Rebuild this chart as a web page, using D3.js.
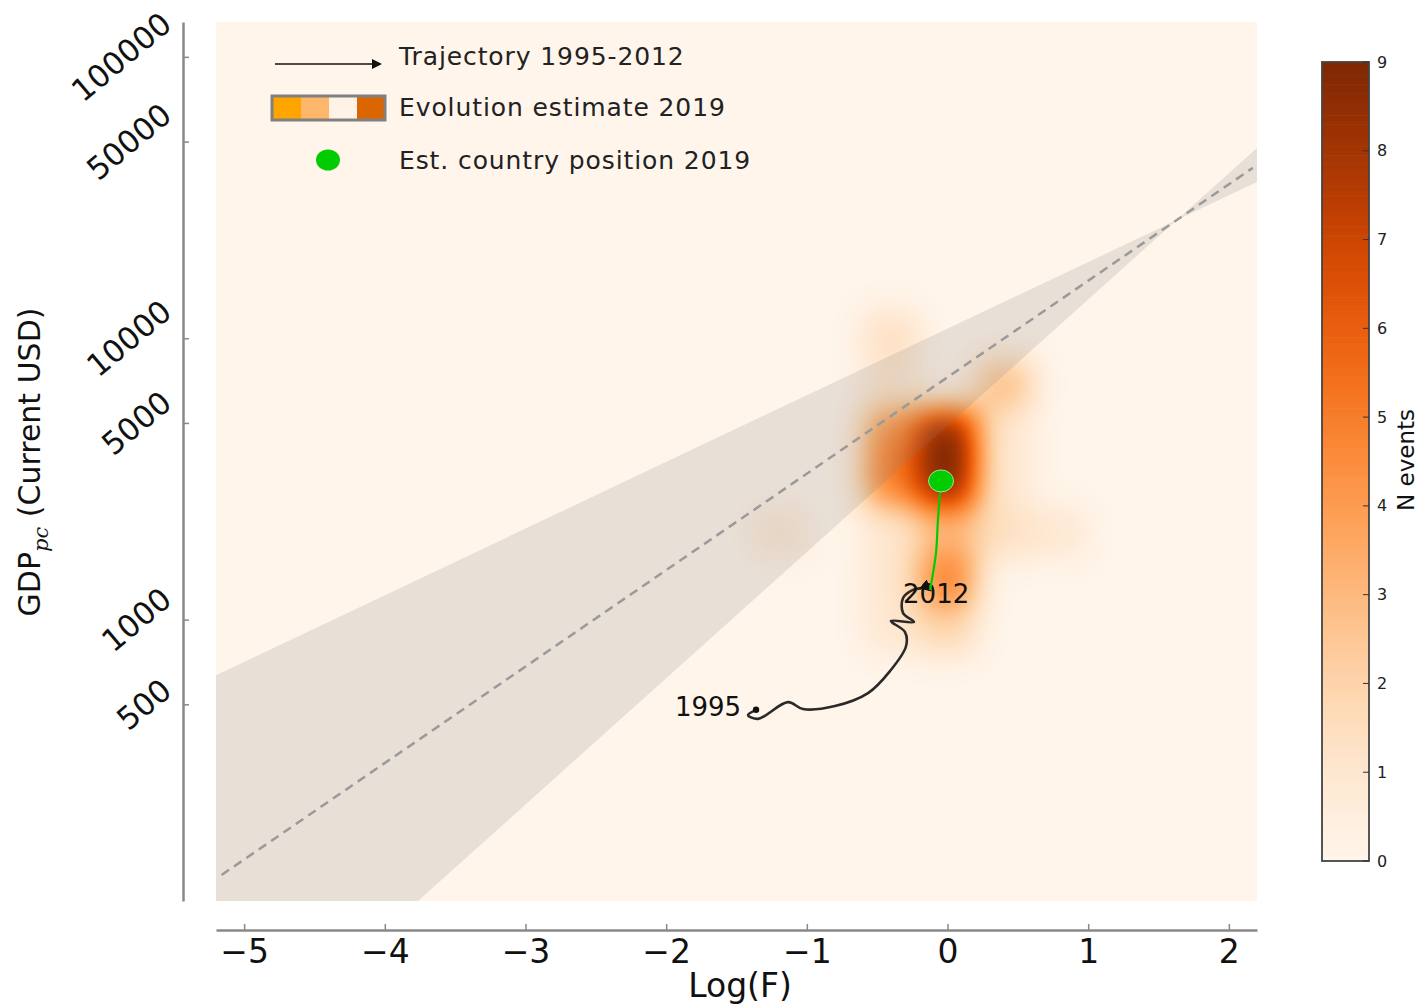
<!DOCTYPE html>
<html>
<head>
<meta charset="utf-8">
<script src="https://cdn.jsdelivr.net/npm/d3@7"></script>
<style>
  body { margin: 0; background: #fff; }
  svg { display: block; font-family: "DejaVu Sans", sans-serif; }
</style>
</head>
<body>
<svg id="chart" width="1420" height="1004"></svg>
<script>
// ---- data ----
const xTicks = [-5, -4, -3, -2, -1, 0, 1, 2];
const yTicks = [500, 1000, 5000, 10000, 50000, 100000];
const cbTicks = [0, 1, 2, 3, 4, 5, 6, 7, 8, 9];

// trajectory 1995-2012 (log F, GDP per capita)
const trajYears = [1995, 1996, 1997, 1998, 1999, 2000, 2001, 2002, 2003, 2004, 2005, 2006, 2007, 2008, 2009, 2010, 2011, 2012];
const trajLogF = [-1.361, -1.418, -1.347, -1.134, -1.027, -0.800, -0.565, -0.409, -0.295, -0.302, -0.402, -0.238, -0.316, -0.316, -0.245, -0.181, -0.146, -0.124];
const trajGdp = [478, 458, 444, 509, 481, 493, 548, 656, 804, 903, 989, 980, 1055, 1194, 1275, 1295, 1295, 1275];

// estimated path 2012 -> 2019
const estPathLogF = [-0.124, -0.082, -0.068, -0.046];
const estPathGdp = [1275, 1722, 2259, 3111];
const est2019 = { logF: -0.046, gdp: 3111 };

// evolution estimate 2019: binned event counts
const binLogF = 0.4;      // bin width in log F
const binLogGdp = 0.175;  // bin height in decades
const estLogF = [0.0, 0.0, 0.0, 0.0, 0.0, -0.4, -0.4, -0.4, -0.4, -0.4, -0.4, -0.4, 0.4, 0.4, 0.4, 0.4, 0.8, -1.2];
const estGdp = [4570, 3090, 2040, 1380, 930, 4570, 3090, 2040, 1380, 930, 6920, 10230, 6920, 4570, 3090, 2040, 2040, 2040];
const estCount = [9, 9, 3, 5, 2, 4.5, 5, 1, 1, 1, 1, 1.5, 3, 1, 1, 1.5, 1, 1];

// regression line and its band: log10(GDP) = a + b * logF
const fitLine = { a: 3.8615, b: 0.3428 };
const bandLow = { a: 4.034, b: 0.2368 };
const bandHigh = { a: 3.689, b: 0.4487 };
const fitRange = [-5.16, 2.17];

const legendSwatch = ["#ffa500", "#fdb66a", "#fff3e8", "#db6500"];

// ---- layout ----
const svg = d3.select("#chart");
const plot = { left: 216, right: 1257, top: 22, bottom: 901 };
const W = plot.right - plot.left, H = plot.bottom - plot.top;

const x = d3.scaleLinear().domain([-5.2, 2.2]).range([plot.left, plot.right]);
const y = d3.scaleLog().domain([100, 133000]).range([plot.bottom, plot.top]);
const color = d3.scaleSequential(d3.interpolateOranges).domain([0, 9]).clamp(true);

svg.append("defs").append("clipPath").attr("id", "plotClip")
  .append("rect").attr("x", plot.left).attr("y", plot.top).attr("width", W).attr("height", H);

// ---- heatmap (smoothed bins) ----
function erf(z) {
  const s = z < 0 ? -1 : 1; z = Math.abs(z);
  const t = 1 / (1 + 0.3275911 * z);
  const p = ((((1.061405429 * t - 1.453152027) * t + 1.421413741) * t - 0.284496736) * t + 0.254829592) * t;
  return s * (1 - p * Math.exp(-z * z));
}
const sigma = 17;
function boxProfile(n, a, b, off) {
  const arr = new Float32Array(n);
  for (let i = 0; i < n; i++) {
    const p = i + off + 0.5;
    arr[i] = 0.5 * (erf((p - a) / (sigma * Math.SQRT2)) - erf((p - b) / (sigma * Math.SQRT2)));
  }
  return arr;
}
const cells = estCount.map((c, i) => {
  const x0 = x(estLogF[i] - binLogF / 2), x1 = x(estLogF[i] + binLogF / 2);
  const lg = Math.log10(estGdp[i]);
  const y0 = y(Math.pow(10, lg + binLogGdp / 2)), y1 = y(Math.pow(10, lg - binLogGdp / 2));
  return { c, cx: boxProfile(W, x0, x1, plot.left), cy: boxProfile(H, y0, y1, plot.top) };
});
const lut = d3.range(256).map(i => d3.rgb(color(i / 255 * 9)));
const canvas = document.createElement("canvas");
canvas.width = W; canvas.height = H;
const ctx = canvas.getContext("2d");
const img = ctx.createImageData(W, H);
for (let j = 0; j < H; j++) {
  for (let i = 0; i < W; i++) {
    let v = 0;
    for (const cell of cells) {
      const r = cell.cy[j];
      if (r > 1e-4) v += cell.c * cell.cx[i] * r;
    }
    const k = Math.max(0, Math.min(255, Math.round(v / 9 * 255)));
    const col = lut[k], o = (j * W + i) * 4;
    img.data[o] = col.r; img.data[o + 1] = col.g; img.data[o + 2] = col.b; img.data[o + 3] = 255;
  }
}
ctx.putImageData(img, 0, 0);
svg.append("image")
  .attr("x", plot.left).attr("y", plot.top).attr("width", W).attr("height", H)
  .attr("href", canvas.toDataURL());

// ---- regression band and line ----
const gPlot = svg.append("g").attr("clip-path", "url(#plotClip)");
gPlot.append("path")
  .datum([-5.2, 2.2])
  .attr("d", d3.area()
    .x(d => x(d))
    .y0(d => y(Math.pow(10, bandLow.a + bandLow.b * d)))
    .y1(d => y(Math.pow(10, bandHigh.a + bandHigh.b * d))))
  .attr("fill", "rgba(128,128,128,0.18)");
gPlot.append("path")
  .datum(fitRange)
  .attr("d", d3.line().x(d => x(d)).y(d => y(Math.pow(10, fitLine.a + fitLine.b * d))))
  .attr("fill", "none").attr("stroke", "#9a9a9a").attr("stroke-width", 2.5)
  .attr("stroke-dasharray", "9,6");

// ---- trajectory ----
svg.select("defs").append("marker")
  .attr("id", "arrow").attr("viewBox", "0 0 10 10").attr("refX", 8).attr("refY", 5)
  .attr("markerWidth", 4.5).attr("markerHeight", 4.5).attr("markerUnits", "strokeWidth")
  .attr("orient", "auto")
  .append("path").attr("d", "M0,0L10,5L0,10Z").attr("fill", "#111");

const trajPts = trajYears.map((yr, i) => [x(trajLogF[i]), y(trajGdp[i])]);
svg.append("path")
  .datum(trajPts)
  .attr("d", d3.line().curve(d3.curveCatmullRom.alpha(0.5)))
  .attr("fill", "none").attr("stroke", "#2a2a2a").attr("stroke-width", 2.6)
  .attr("marker-end", "url(#arrow)");
svg.append("circle").attr("cx", trajPts[0][0]).attr("cy", trajPts[0][1]).attr("r", 3.2).attr("fill", "#111");

svg.append("text").attr("x", trajPts[0][0] - 15).attr("y", trajPts[0][1] + 6)
  .attr("text-anchor", "end").attr("font-size", 26).attr("fill", "#111").text(trajYears[0]);
const last = trajPts[trajPts.length - 1];
svg.append("text").attr("x", last[0] - 27).attr("y", last[1] + 13)
  .attr("font-size", 26).attr("fill", "#111").text(trajYears[trajYears.length - 1]);

// estimated path to 2019
svg.append("path")
  .datum(estPathLogF.map((v, i) => [x(v), y(estPathGdp[i])]))
  .attr("d", d3.line().curve(d3.curveCatmullRom.alpha(0.5)))
  .attr("fill", "none").attr("stroke", "#00cc00").attr("stroke-width", 2.2);
svg.append("ellipse")
  .attr("cx", x(est2019.logF)).attr("cy", y(est2019.gdp)).attr("rx", 12.5).attr("ry", 11)
  .attr("fill", "#00cc00").attr("stroke", "#a8dca0").attr("stroke-width", 1);

// ---- axes ----
const xAxis = svg.append("g").attr("transform", "translate(0,930)")
  .call(d3.axisBottom(x).tickValues(xTicks).tickSize(-6).tickSizeOuter(0).tickPadding(10));
xAxis.select(".domain").attr("stroke", "#888").attr("stroke-width", 2.5);
xAxis.selectAll(".tick line").attr("stroke", "#888").attr("stroke-width", 1.5);
xAxis.selectAll(".tick text").attr("font-size", 33).attr("fill", "#111")
  .attr("font-family", "DejaVu Sans");

const yAxis = svg.append("g").attr("transform", "translate(183,0)")
  .call(d3.axisRight(y).tickValues(yTicks).tickSize(6).tickSizeOuter(0).tickFormat(""));
yAxis.select(".domain").attr("stroke", "#888").attr("stroke-width", 2.5);
yAxis.selectAll(".tick line").attr("stroke", "#888").attr("stroke-width", 1.5);

// rotated y tick labels, right edge of rotated box at 174, centered on tick
const ang = 40 * Math.PI / 180;
yTicks.forEach(v => {
  const t = svg.append("text").attr("font-size", 31).attr("fill", "#111")
    .attr("text-anchor", "middle").attr("dominant-baseline", "central").text(v);
  const L = t.node().getComputedTextLength();
  const halfW = (L * Math.cos(ang) + 23 * Math.sin(ang)) / 2;
  t.attr("transform", `translate(${174 - halfW},${y(v)}) rotate(-40)`);
});

svg.append("text").attr("x", 740).attr("y", 997).attr("text-anchor", "middle")
  .attr("font-size", 33).attr("fill", "#111").text("Log(F)");

const yl = svg.append("text").attr("transform", "translate(40,462) rotate(-90)")
  .attr("text-anchor", "middle").attr("font-size", 30).attr("fill", "#111");
yl.append("tspan").text("GDP");
yl.append("tspan").attr("dy", 8).attr("font-size", 21).attr("font-style", "italic")
  .attr("font-family", "DejaVu Serif").text("pc");
yl.append("tspan").attr("dy", -8).text(" (Current USD)");

// ---- legend ----
const lg = svg.append("g").attr("font-size", 25).attr("letter-spacing", 0.9).attr("fill", "#222");
lg.append("line").attr("x1", 275).attr("y1", 64).attr("x2", 376).attr("y2", 64)
  .attr("stroke", "#111").attr("stroke-width", 1.5);
lg.append("path").attr("d", "M372,59L382,64L372,69Z").attr("fill", "#111");
lg.append("text").attr("x", 399).attr("y", 65).text("Trajectory 1995-2012");
const sw = d3.scaleBand().domain(d3.range(legendSwatch.length)).range([273, 385]);
lg.selectAll("rect.sw").data(legendSwatch).join("rect").attr("class", "sw")
  .attr("x", (d, i) => sw(i)).attr("y", 97).attr("width", sw.bandwidth() + 0.5).attr("height", 22)
  .attr("fill", d => d);
lg.append("rect").attr("x", 272).attr("y", 96).attr("width", 113).attr("height", 24)
  .attr("fill", "none").attr("stroke", "#808080").attr("stroke-width", 3);
lg.append("text").attr("x", 399).attr("y", 116).text("Evolution estimate 2019");
lg.append("ellipse").attr("cx", 328).attr("cy", 160).attr("rx", 12).attr("ry", 10.5)
  .attr("fill", "#00cc00");
lg.append("text").attr("x", 399).attr("y", 169).text("Est. country position 2019");

// ---- colorbar ----
const cb = { x: 1322, w: 47, top: 62, bottom: 861 };
const cbY = d3.scaleLinear().domain([0, 9]).range([cb.bottom, cb.top]);
const steps = d3.range(0, 9, 0.05);
svg.append("g").selectAll("rect").data(steps).join("rect")
  .attr("x", cb.x).attr("width", cb.w)
  .attr("y", d => cbY(d + 0.05)).attr("height", d => cbY(d) - cbY(d + 0.05) + 0.6)
  .attr("fill", d => color(d + 0.025));
svg.append("rect").attr("x", cb.x).attr("y", cb.top).attr("width", cb.w).attr("height", cb.bottom - cb.top)
  .attr("fill", "none").attr("stroke", "#444").attr("stroke-width", 1.8);
const cbAxis = svg.append("g").attr("transform", `translate(${cb.x + cb.w},0)`);
cbAxis.selectAll("line").data(cbTicks).join("line")
  .attr("x1", -6).attr("x2", 0).attr("y1", d => cbY(d)).attr("y2", d => cbY(d))
  .attr("stroke", "#333").attr("stroke-width", 1);
cbAxis.selectAll("text").data(cbTicks).join("text")
  .attr("x", 8).attr("y", d => cbY(d)).attr("dominant-baseline", "central")
  .attr("font-size", 16).attr("fill", "#222").text(d => d);
svg.append("text").attr("transform", "translate(1414,460) rotate(-90)")
  .attr("text-anchor", "middle").attr("font-size", 23).attr("fill", "#111").text("N events");
</script>
</body>
</html>
